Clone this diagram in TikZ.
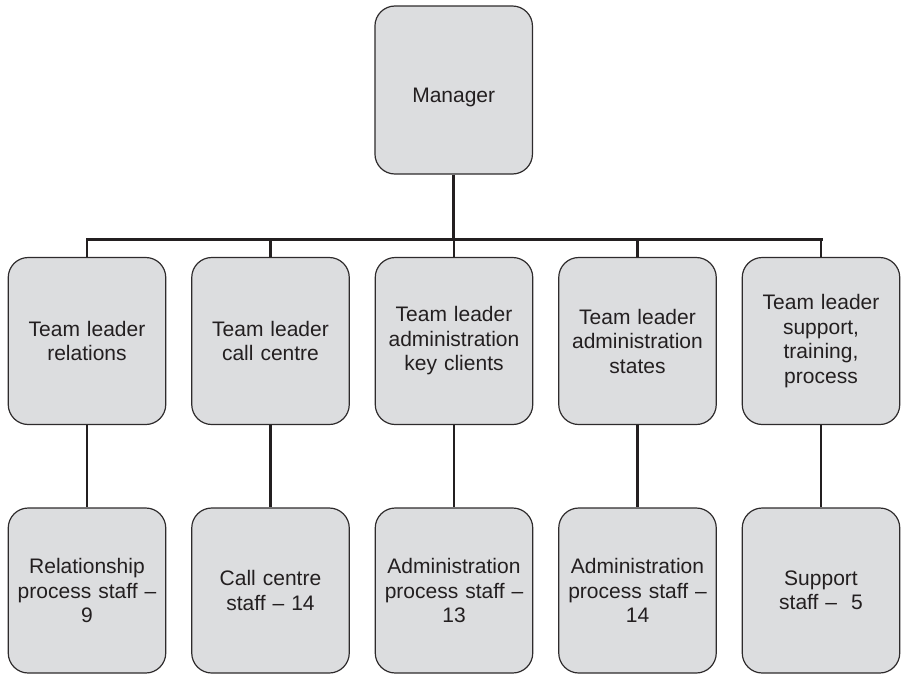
\documentclass[tikz,border=0pt]{standalone}
\usepackage{fontspec}
\setmainfont{Liberation Sans}
\definecolor{boxfill}{HTML}{DCDDDF}
\definecolor{boxline}{HTML}{2E2B2C}
\definecolor{txt}{HTML}{231F20}
\begin{document}
\begin{tikzpicture}[x=1pt,y=-1pt,
  orgbox/.style={draw=boxline, line width=1.2pt, fill=boxfill, rounded corners=20pt,
    minimum width=157.5pt, minimum height=167pt, inner sep=0pt, text width=150pt,
    align=center, text=txt, font=\fontsize{21}{24.5}\selectfont},
  mainline/.style={draw=txt, line width=3pt},
  dropline/.style={draw=txt, line width=2.2pt}]
\useasboundingbox (0,0) rectangle (904,673);
% nodes
\node[orgbox, minimum height=168pt] (mgr) at (453.7,90) {\raisebox{-12pt}[0pt][0pt]{Manager}};
\node[orgbox] (t1) at (87,341) {Team leader\\relations};
\node[orgbox] (t2) at (270.5,341) {Team leader\\call centre};
\node[orgbox] (t3) at (454,341) {Team leader\\administration\\key clients};
\node[orgbox] (t4) at (637.5,341) {Team leader\\administration\\states};
\node[orgbox] (t5) at (821,341) {Team leader\\support,\\training,\\process};
\node[orgbox, minimum height=165pt] (s1) at (87,590.5) {Relationship\\process staff –\\9};
\node[orgbox, minimum height=165pt] (s2) at (270.5,590.5) {Call centre\\staff – 14};
\node[orgbox, minimum height=165pt] (s3) at (454,590.5) {Administration\\process staff –\\13};
\node[orgbox, minimum height=165pt] (s4) at (637.5,590.5) {Administration\\process staff –\\14};
\node[orgbox, minimum height=165pt] (s5) at (821,590.5) {Support\\staff –\ \ 5};
% connectors
\coordinate (bar) at (453.7,239);
\draw[mainline] (mgr.south) -- (bar);
\draw[mainline, line cap=rect] (t1.north |- bar) -- (t5.north |- bar);
\foreach \i in {1,...,5}{
  \draw[dropline] (t\i.north |- bar) -- (t\i.north);
  \draw[dropline] (t\i.south) -- (s\i.north);
}
\end{tikzpicture}
\end{document}
